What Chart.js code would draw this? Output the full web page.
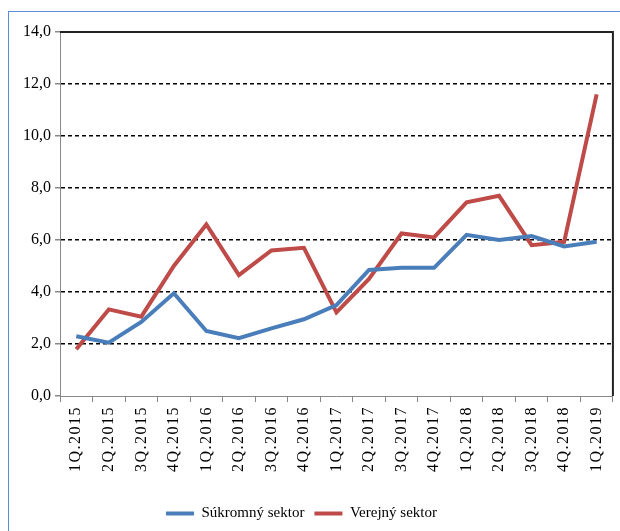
<!DOCTYPE html>
<html>
<head>
<meta charset="utf-8">
<script src="https://cdn.jsdelivr.net/npm/chart.js@4.4.0/dist/chart.umd.min.js"></script>
<style>
  html, body { margin: 0; padding: 0; background: #fff; }
  #wrap { position: relative; width: 620px; height: 531px; overflow: hidden; }
  #frame { position: absolute; left: 8px; top: 11px; width: 700px; height: 600px;
           border: 1.5px solid #5b8bd6; box-sizing: border-box; }
  #c { position: absolute; left: 0; top: 0; }
</style>
</head>
<body>
<div id="wrap">
  <div id="frame"></div>
  <canvas id="c" width="620" height="531"></canvas>
</div>
<script>
// kvartály
var labels = ['1Q.2015', '2Q.2015', '3Q.2015', '4Q.2015', '1Q.2016', '2Q.2016', '3Q.2016', '4Q.2016',
  '1Q.2017', '2Q.2017', '3Q.2017', '4Q.2017', '1Q.2018', '2Q.2018', '3Q.2018', '4Q.2018', '1Q.2019'];

// hodnoty odčítané z obrázka
var sukromny = [2.3, 2.05, 2.85, 3.95, 2.5, 2.22, 2.6, 2.95, 3.5, 4.85, 4.93, 4.93, 6.2, 6.0, 6.15, 5.75, 5.93];
var verejny = [1.8, 3.33, 3.05, 5.0, 6.6, 4.65, 5.6, 5.7, 3.22, 4.5, 6.25, 6.1, 7.45, 7.7, 5.8, 5.93, 11.6];

var yMin = 0, yMax = 14, yStep = 2;

var serif = "'Liberation Serif', 'Times New Roman', serif";

// horný a pravý okraj plochy grafu
var frameBorder = {
  id: 'frameBorder',
  afterDraw: function (chart) {
    var a = chart.chartArea, ctx = chart.ctx;
    ctx.save();
    ctx.strokeStyle = '#222';
    ctx.lineWidth = 2;
    ctx.beginPath();
    ctx.moveTo(a.left, a.top);
    ctx.lineTo(a.right, a.top);
    ctx.lineTo(a.right, a.bottom);
    ctx.stroke();
    ctx.restore();
  },
  afterLayout: function (chart) {
    // legenda je trochu vľavo od stredu
    chart.legend.left -= 10;
    chart.legend.right -= 10;
  }
};

var ctx = document.getElementById('c').getContext('2d');
var chart = new Chart(ctx, {
  type: 'line',
  data: {
    labels: labels,
    datasets: [{
      label: 'Súkromný sektor',
      data: sukromny,
      borderColor: '#4a7ebb',
      backgroundColor: '#4a7ebb',
      borderWidth: 4,
      pointRadius: 0,
      tension: 0
    }, {
      label: 'Verejný sektor',
      data: verejny,
      borderColor: '#be4b48',
      backgroundColor: '#be4b48',
      borderWidth: 4,
      pointRadius: 0,
      tension: 0
    }]
  },
  options: {
    responsive: false,
    animation: false,
    layout: { padding: { left: 8, right: 5, top: 32, bottom: 0 } },
    plugins: {
      tooltip: { enabled: false },
      legend: {
        position: 'bottom',
        labels: {
          usePointStyle: true,
          pointStyle: 'line',
          pointStyleWidth: 28,
          boxHeight: 14,
          padding: 10,
          color: '#000',
          font: { family: serif, size: 15 }
        }
      }
    },
    scales: {
      x: {
        offset: true,
        grid: {
          offset: true,
          drawOnChartArea: false,
          drawTicks: true,
          tickLength: 6,
          tickColor: '#888'
        },
        border: { color: '#888', width: 1 },
        ticks: {
          maxRotation: 90,
          minRotation: 90,
          autoSkip: false,
          padding: 4,
          color: '#000',
          font: { family: serif, size: 16 }
        },
        afterFit: function (scale) {
          scale.height = 100;
          if (!scale._spaced) {
            var orig = scale.drawLabels.bind(scale);
            scale.drawLabels = function (area) {
              scale.ctx.save();
              scale.ctx.letterSpacing = '1.5px';
              orig(area);
              scale.ctx.restore();
            };
            scale._spaced = true;
          }
        }
      },
      y: {
        min: yMin,
        max: yMax,
        ticks: {
          stepSize: yStep,
          padding: 4,
          color: '#000',
          font: { family: serif, size: 16 },
          callback: function (v) { return v.toFixed(1).replace('.', ','); }
        },
        grid: {
          color: function (c) {
            var v = c.tick ? c.tick.value : null;
            return (v === yMin || v === yMax) ? 'rgba(0,0,0,0)' : '#000';
          },
          lineWidth: 1.5,
          drawTicks: true,
          tickLength: 5,
          tickColor: '#888'
        },
        border: { color: '#888', width: 1, dash: [4, 3] },
        afterFit: function (scale) { scale.width = 52; }
      }
    }
  },
  plugins: [frameBorder]
});
</script>
</body>
</html>
